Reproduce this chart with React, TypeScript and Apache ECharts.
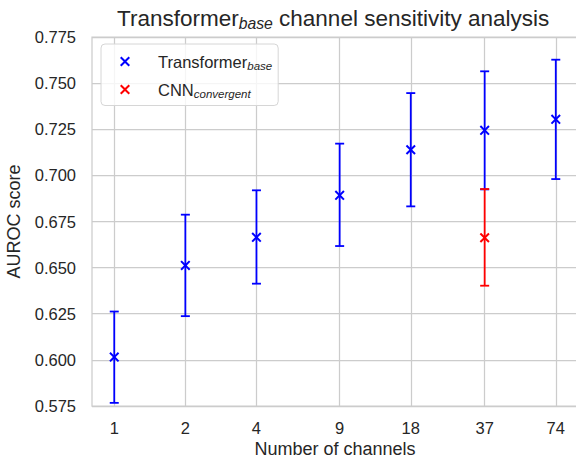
import React, { useEffect, useRef } from "react";
import * as echarts from "echarts";

const channels = [1, 2, 4, 9, 18, 37, 74];
const transformerMean = [0.6015, 0.6512, 0.6664, 0.6892, 0.7139, 0.7244, 0.7304];
const transformerLow = [0.5767, 0.6237, 0.6413, 0.6617, 0.6832, 0.6924, 0.698];
const transformerHigh = [0.6262, 0.6787, 0.6919, 0.7172, 0.7446, 0.7564, 0.7627];

const cnnChannels = [37];
const cnnMean = [0.6662];
const cnnLow = [0.6402];
const cnnHigh = [0.6926];

const yTicks = [0.575, 0.6, 0.625, 0.65, 0.675, 0.7, 0.725, 0.75, 0.775];

const BLUE = "#0000ff";
const RED = "#ff0000";
const FONT = "'Liberation Sans', Arial, Helvetica, sans-serif";
const TEXT = "#262626";
const GRID = "#cccccc";
const X_PATH =
  "path://M0,1.4L1.4,0L5,3.6L8.6,0L10,1.4L6.4,5L10,8.6L8.6,10L5,6.4L1.4,10L0,8.6L3.6,5Z";

function errorBar(color: string) {
  return (params: any, api: any) => {
    const x = api.value(0);
    const lo = api.coord([x, api.value(1)]);
    const hi = api.coord([x, api.value(2)]);
    const cw = 4.5;
    const style = { stroke: color, lineWidth: 1.8 };
    return {
      type: "group",
      children: [
        { type: "line", shape: { x1: lo[0], y1: lo[1], x2: hi[0], y2: hi[1] }, style },
        { type: "line", shape: { x1: lo[0] - cw, y1: lo[1], x2: lo[0] + cw, y2: lo[1] }, style },
        { type: "line", shape: { x1: hi[0] - cw, y1: hi[1], x2: hi[0] + cw, y2: hi[1] }, style },
      ],
    };
  };
}

export default function App() {
  const ref = useRef<HTMLDivElement>(null);
  useEffect(() => {
    if (!ref.current) return;
    const chart = echarts.init(ref.current, undefined, { renderer: "svg" });
    const tData = channels.map((c, i) => [c, transformerMean[i]]);
    const tErr = channels.map((c, i) => [c, transformerLow[i], transformerHigh[i]]);
    const cData = cnnChannels.map((c, i) => [c, cnnMean[i]]);
    const cErr = cnnChannels.map((c, i) => [c, cnnLow[i], cnnHigh[i]]);

    chart.setOption({
      animation: false,
      backgroundColor: "#ffffff",
      textStyle: { fontFamily: FONT },
      title: {
        text: "{m|Transformer}{s|base}{m| channel sensitivity analysis}",
        left: 117,
        top: 5,
        padding: 0,
        textStyle: {
          fontFamily: FONT,
          fontWeight: "normal",
          lineHeight: 26,
          rich: {
            m: { fontSize: 22.5, color: TEXT, fontFamily: FONT, fontWeight: "normal", lineHeight: 26 },
            s: {
              fontSize: 15.75,
              fontStyle: "italic",
              fontWeight: "normal",
              color: TEXT,
              fontFamily: FONT,
              verticalAlign: "bottom",
            },
          },
        },
      },
      legend: {
        left: 101,
        top: 44,
        orient: "vertical",
        padding: [7.5, 6, 6, 19],
        itemGap: 8,
        itemWidth: 10,
        itemHeight: 10,
        backgroundColor: "rgba(255,255,255,0.8)",
        borderColor: "#d6d6d6",
        borderWidth: 1,
        borderRadius: 4,
        data: [
          { name: "Transformer_base", icon: X_PATH },
          { name: "CNN_convergent", icon: X_PATH },
        ],
        formatter: (name: string) =>
          name === "Transformer_base"
            ? "{n|Transformer}{s|base}"
            : "{n|CNN}{s|convergent}",
        textStyle: {
          lineHeight: 20,
          fontFamily: FONT,
          rich: {
            n: { fontSize: 16.5, color: TEXT, fontFamily: FONT, padding: [0, 0, 0, 23] },
            s: {
              fontSize: 11.5,
              fontStyle: "italic",
              color: TEXT,
              fontFamily: FONT,
              verticalAlign: "bottom",
            },
          },
        },
      },
      grid: {
        left: 92,
        top: 37,
        width: 486,
        height: 369,
        show: true,
        backgroundColor: "#ffffff",
        borderColor: GRID,
        borderWidth: 1.25,
        outerBoundsMode: "none",
        containLabel: false,
      },
      xAxis: {
        type: "log",
        logBase: 2,
        min: 0.805,
        max: 91.9,
        name: "Number of channels",
        nameLocation: "middle",
        nameGap: 34,
        nameMoveOverlap: false,
        nameTextStyle: { fontSize: 18, color: TEXT, fontFamily: FONT },
        axisLine: { show: false },
        axisTick: { show: false, customValues: channels },
        axisLabel: {
          customValues: channels,
          fontSize: 16.5,
          color: TEXT,
          fontFamily: FONT,
          margin: 13,
          formatter: (v: number) => String(Math.round(v)),
        },
        splitLine: { show: true, lineStyle: { color: GRID, width: 1.25 } },
        minorSplitLine: { show: false },
      },
      yAxis: {
        type: "value",
        min: yTicks[0],
        max: yTicks[yTicks.length - 1],
        interval: 0.025,
        name: "AUROC score",
        nameLocation: "middle",
        nameGap: 69,
        nameMoveOverlap: false,
        nameTextStyle: { fontSize: 18, color: TEXT, fontFamily: FONT },
        axisLine: { show: false },
        axisTick: { show: false },
        axisLabel: {
          fontSize: 16.5,
          color: TEXT,
          fontFamily: FONT,
          margin: 16,
          formatter: (v: number) => v.toFixed(3),
        },
        splitLine: { show: true, lineStyle: { color: GRID, width: 1.25 } },
      },
      series: [
        {
          type: "custom",
          name: "Transformer_base_err",
          data: tErr,
          encode: { x: 0, y: [1, 2] },
          renderItem: errorBar(BLUE),
          z: 2,
          silent: true,
        },
        {
          type: "scatter",
          name: "Transformer_base",
          data: tData,
          symbol: X_PATH,
          symbolSize: 10,
          itemStyle: { color: BLUE, opacity: 1 },
          z: 3,
        },
        {
          type: "custom",
          name: "CNN_convergent_err",
          data: cErr,
          encode: { x: 0, y: [1, 2] },
          renderItem: errorBar(RED),
          z: 4,
          silent: true,
        },
        {
          type: "scatter",
          name: "CNN_convergent",
          data: cData,
          symbol: X_PATH,
          symbolSize: 10,
          itemStyle: { color: RED, opacity: 1 },
          z: 5,
        },
      ],
    });
    return () => chart.dispose();
  }, []);
  return (
    <div
      ref={ref}
      style={{ position: "fixed", left: 0, top: 0, width: 576, height: 459 }}
    />
  );
}
